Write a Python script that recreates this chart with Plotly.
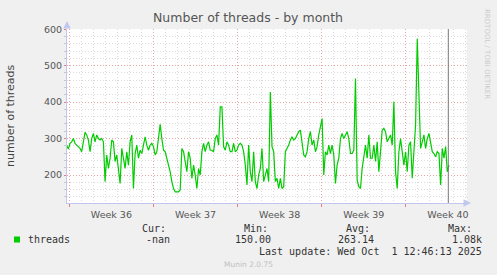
import pandas as pd
import plotly.graph_objects as go

# ---- data ----
threads = [
    282, 271, 287, 291, 300, 287, 282, 278, 273, 264, 296, 317, 310, 296, 264, 300,
    314, 291, 310, 300, 296, 300, 291, 182, 255, 218, 246, 296, 291, 237, 255, 209,
    177, 273, 246, 218, 264, 227, 291, 310, 163, 259, 282, 246, 268, 259, 282, 305,
    282, 268, 282, 287, 278, 255, 264, 310, 339, 300, 268, 264, 246, 227, 209, 182,
    163, 154, 154, 154, 159, 273, 264, 237, 209, 264, 246, 191, 227, 200, 163, 218,
    200, 264, 287, 264, 282, 291, 268, 268, 264, 300, 310, 282, 387, 387, 278, 268,
    291, 282, 264, 264, 287, 264, 268, 282, 287, 282, 264, 227, 173, 282, 209, 182,
    264, 182, 163, 200, 218, 273, 182, 200, 218, 182, 428, 278, 264, 182, 191, 163,
    191,
    163, 168, 264, 273, 282, 296, 305, 296, 300, 310, 319, 323, 282, 255, 250, 264,
    300, 319, 282, 296, 264, 278, 310, 337, 355, 200, 264, 255, 282, 259, 282, 255,
    177, 227, 246, 300, 314, 300, 310, 319, 300, 259, 259, 268, 465, 186, 168, 163,
    218, 255, 282, 246, 310, 246, 246, 282, 237, 291, 209, 264, 323, 328, 319, 291,
    300, 310, 282, 401, 209, 163, 264, 300, 264, 227, 264, 209, 282, 291, 191, 259,
    337, 574, 451, 273, 291, 310, 273, 300, 314, 291, 264, 259, 250, 264, 259, 173,
    273, 246, 278, 209, 227,
]
series_start = "2025-08-31 18:45"
sample_step = "200min"
times = pd.date_range(series_start, periods=len(threads), freq=sample_step)

x_range = ["2025-08-31 19:24", "2025-10-04 02:05"]
y_range = [123.3, 600.5]
now_marker = "2025-10-02 12:45"

legend_headers = ["Cur:", "Min:", "Avg:", "Max:"]
legend_values = ["-nan", "150.00", "263.14", "1.08k"]
series_name = "threads"
last_update = "Last update: Wed Oct\u00a0\u00a01 12:46:13 2025"

# ---- layout helpers (pixel -> paper) ----
L, R, T, B = 67, 467, 29, 203
def px(x):
    return (x - L) / (R - L)
def py(y):
    return (B - y) / (B - T)

MONO = "DejaVu Sans Mono"
SANS = "DejaVu Sans"
GREEN = "#00CC00"
AXIS = "#C0C8F0"

fig = go.Figure()
fig.add_trace(go.Scatter(x=times, y=threads, mode="lines",
                         line=dict(color=GREEN, width=1.2), showlegend=False,
                         hoverinfo="skip"))

fig.add_vline(x=now_marker, line=dict(color="#777777", width=1))

ann = []
def text(x, y, s, size=10, color="#333333", family=MONO, xa="left", angle=0):
    ann.append(dict(x=px(x), y=py(y), xref="paper", yref="paper", text=s,
                    showarrow=False, xanchor=xa, yanchor="middle",
                    font=dict(family=family, size=size, color=color),
                    textangle=angle, borderpad=0))

text(248, 18, "Number of threads - by month", size=12.5, color="#555555", family=SANS, xa="center")
text(11, 115, "number of threads", size=11, color="#444444", family=SANS, xa="center", angle=-90)
text(487, 54, "RRDTOOL / TOBI OETIKER", size=7, color="#CCCCCC", family=SANS, xa="center", angle=90)

hdr_x = [140.5, 242.5, 345, 446.5]
for hx, h in zip(hdr_x, legend_headers):
    text(hx, 228, h)
text(26.5, 239.5, series_name)
val_right = [170.5, 272, 374.5, 483]
for vx, v in zip(val_right, legend_values):
    text(vx, 239.5, v, xa="right")
text(483, 251.5, last_update, xa="right")
text(248, 264, "Munin 2.0.75", size=7.5, color="#C0C0C0", family=SANS, xa="center")

# axis arrows
ann.append(dict(x=px(67), y=py(21), xref="paper", yref="paper", ax=0, ay=8,
                showarrow=True, arrowhead=2, arrowsize=1, arrowwidth=1.5,
                arrowcolor=AXIS, text=""))
ann.append(dict(x=px(471), y=py(203), xref="paper", yref="paper", ax=-8, ay=0,
                showarrow=True, arrowhead=2, arrowsize=1, arrowwidth=1.5,
                arrowcolor=AXIS, text=""))

fig.add_shape(type="rect", xref="paper", yref="paper",
              x0=px(14), x1=px(20), y0=py(242.5), y1=py(236.5),
              fillcolor=GREEN, line=dict(width=0))

fig.update_layout(
    width=497, height=275,
    margin=dict(l=L, r=497 - R, t=T, b=275 - B),
    paper_bgcolor="#F0F0F0", plot_bgcolor="#FFFFFF",
    font=dict(family=SANS, size=10, color="#555555"),
    annotations=ann,
    xaxis=dict(
        type="date", range=x_range,
        tick0="2025-09-01", dtick=7 * 86400000,
        tickformat="Week %V", ticklabelmode="period",
        tickfont=dict(size=9.5, color="#555555"),
        ticks="outside", ticklen=3, tickcolor="#E08080",
        showgrid=True, gridcolor="#EBA5A5", griddash="1px,2px", gridwidth=1,
        minor=dict(dtick=86400000, showgrid=True, gridcolor="#DADADA",
                   griddash="1px,2px", ticks=""),
        showline=True, linecolor=AXIS, linewidth=1, zeroline=False,
        fixedrange=True,
    ),
    yaxis=dict(
        range=y_range, tick0=0, dtick=100,
        tickfont=dict(size=9.5, color="#555555"),
        ticks="outside", ticklen=2, tickcolor="#E08080",
        showgrid=True, gridcolor="#EBA5A5", griddash="1px,2px", gridwidth=1,
        minor=dict(dtick=20, showgrid=True, gridcolor="#DADADA",
                   griddash="1px,2px", ticks="outside", ticklen=2,
                   tickcolor="#C8C8C8"),
        showline=True, linecolor=AXIS, linewidth=1, zeroline=False,
        fixedrange=True,
    ),
)

fig.write_html("out.html")
